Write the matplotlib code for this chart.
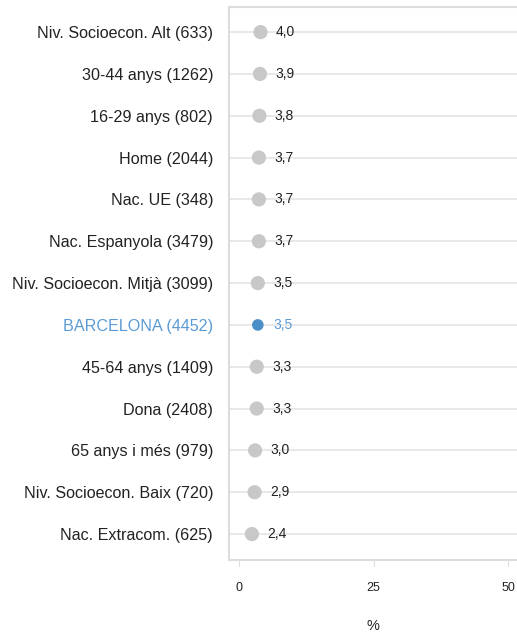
import matplotlib.pyplot as plt

plt.rcParams['font.family'] = ['Liberation Sans', 'DejaVu Sans']

categories = [
    "Niv. Socioecon. Alt (633)",
    "30-44 anys (1262)",
    "16-29 anys (802)",
    "Home (2044)",
    "Nac. UE (348)",
    "Nac. Espanyola (3479)",
    "Niv. Socioecon. Mitjà (3099)",
    "BARCELONA (4452)",
    "45-64 anys (1409)",
    "Dona (2408)",
    "65 anys i més (979)",
    "Niv. Socioecon. Baix (720)",
    "Nac. Extracom. (625)",
]
values = [4.0, 3.9, 3.8, 3.7, 3.7, 3.7, 3.5, 3.5, 3.3, 3.3, 3.0, 2.9, 2.4]
highlight = "BARCELONA (4452)"

gray = "#c8c8c8"
blue = "#4a8fc7"
label_blue = "#5b9bd5"
grid_col = "#e4e4e4"

fig = plt.figure(figsize=(5.17, 6.33), dpi=100)
ax = fig.add_axes([229 / 517, 73 / 633, 288 / 517, 553 / 633])

ypos = list(range(len(categories)))
for y, cat, v in zip(ypos, categories, values):
    ax.axhline(y, color=grid_col, lw=1.2, zorder=1)
    is_hl = cat == highlight
    ax.scatter(v, y, s=70 if is_hl else 105, color=blue if is_hl else gray,
               edgecolors='none', zorder=3)
    ax.annotate(f"{v:.1f}".replace(".", ","), (v, y), xytext=(11, 0),
                textcoords='offset points', ha='left', va='center',
                fontsize=10, color=label_blue if is_hl else "#222222")

ax.set_xlim(-1.85, 51.6)
ax.set_ylim(len(categories) - 1 + 0.62, -0.6)
ax.set_yticks(ypos)
ax.set_yticklabels(categories, fontsize=11.6)
for lbl in ax.get_yticklabels():
    lbl.set_color(label_blue if lbl.get_text() == highlight else "#222222")
ax.tick_params(axis='y', length=0, pad=11.5)

ax.set_xticks([0, 25, 50])
ax.set_xticklabels(["0", "25", "50"], fontsize=9)
ax.tick_params(axis='x', length=4, color="#dddddd", pad=12, labelcolor="#222222")
ax.set_xlabel("%", fontsize=10.5, labelpad=17.5, color="#222222")

for side in ['left', 'top', 'bottom']:
    ax.spines[side].set_color("#dddddd")
    ax.spines[side].set_linewidth(1.5)
ax.spines['right'].set_visible(False)

fig.savefig("out.png", dpi=100)
